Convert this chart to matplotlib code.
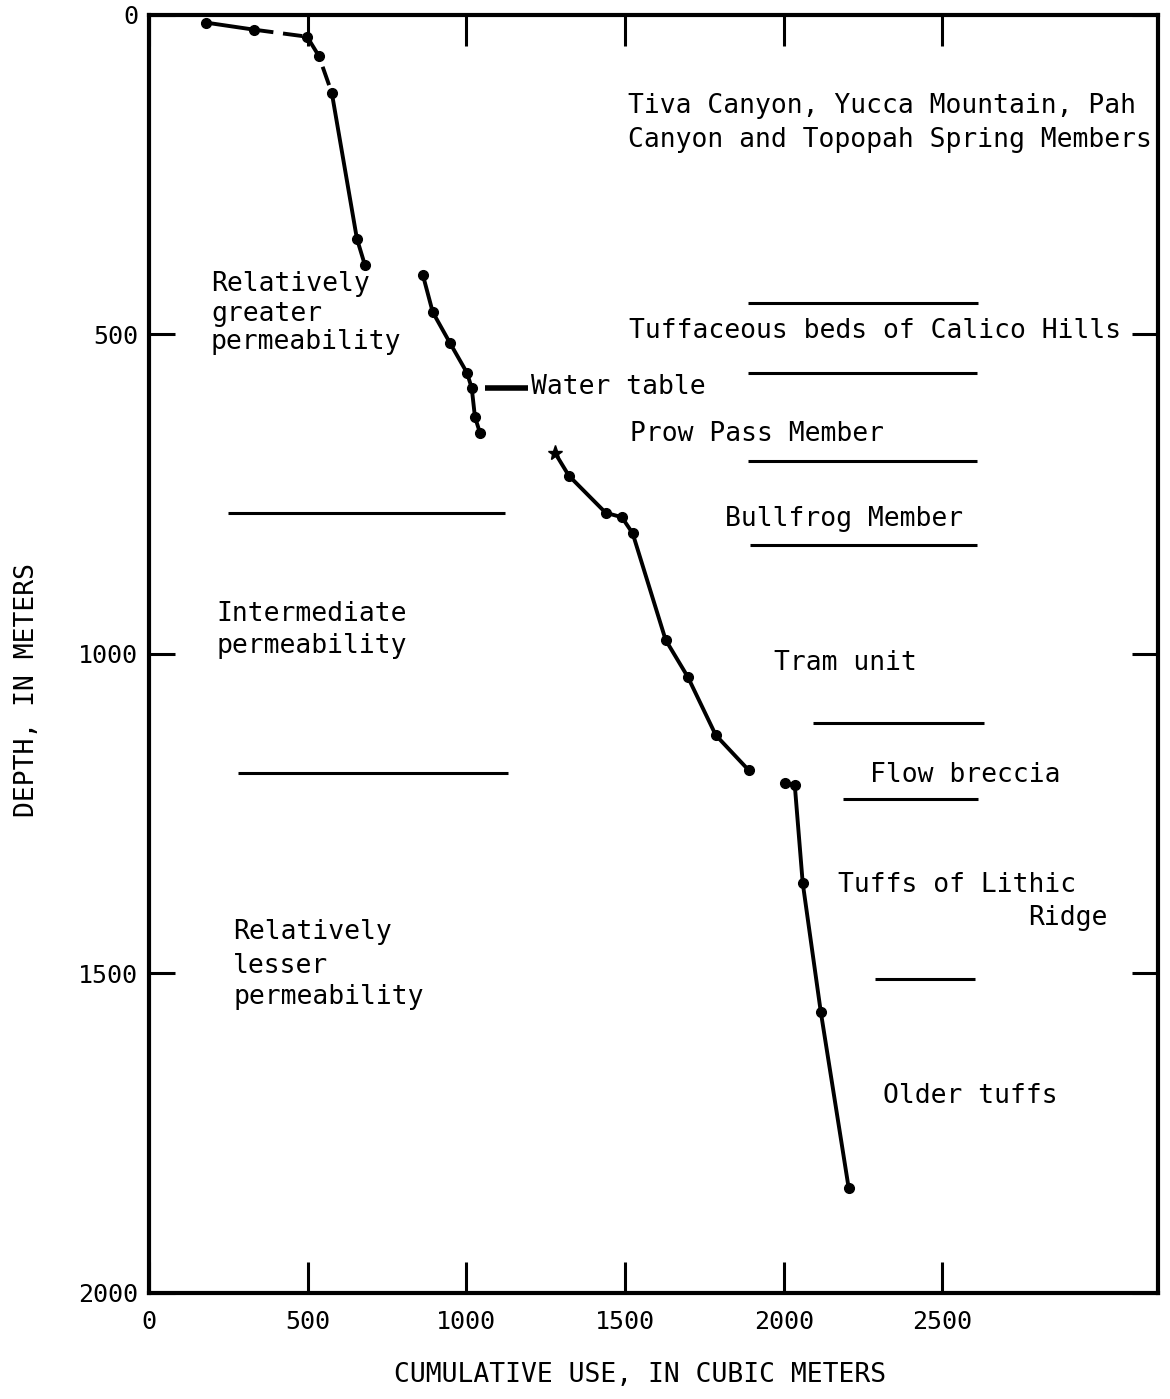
import matplotlib.pyplot as plt

plt.rcParams['font.family'] = ['DejaVu Sans Mono']

# cumulative use (m3) vs depth (m), four pieces of the hand-drawn curve
seg1_x = [180, 331, 498, 535, 576, 655, 680]
seg1_y = [12, 23, 34, 64, 122, 350, 391]
seg2_x = [863, 894, 948, 1002, 1017, 1027, 1043]
seg2_y = [407, 465, 513, 560, 584, 629, 654]
seg3_x = [1279, 1323, 1439, 1490, 1524, 1628, 1698, 1786, 1890]
seg3_y = [685, 721, 779, 786, 811, 978, 1036, 1127, 1182]
seg4_x = [2003, 2035, 2060, 2117, 2205]
seg4_y = [1202, 1205, 1358, 1560, 1836]

# stratigraphic unit boundaries (right) and permeability zones (left)
unit_y = [451, 560, 698, 829, 1108, 1227, 1509]
unit_x0 = [1887, 1887, 1887, 1893, 2094, 2186, 2287]
unit_x1 = [2611, 2608, 2608, 2608, 2630, 2611, 2602]
perm_y = [779, 1186]
perm_x0 = [249, 280]
perm_x1 = [1121, 1131]
water_table_y = 584

labels = [
    ("Tiva Canyon, Yucca Mountain, Pah", 1509, 142, 'left'),
    ("Canyon and Topopah Spring Members", 1509, 196, 'left'),
    ("Relatively", 195, 421, 'left'),
    ("greater", 195, 468, 'left'),
    ("permeability", 195, 512, 'left'),
    ("Tuffaceous beds of Calico Hills", 1512, 494, 'left'),
    ("Water table", 1203, 582, 'left'),
    ("Prow Pass Member", 1515, 656, 'left'),
    ("Bullfrog Member", 1814, 789, 'left'),
    ("Intermediate", 211, 937, 'left'),
    ("permeability", 211, 987, 'left'),
    ("Tram unit", 1969, 1014, 'left'),
    ("Flow breccia", 2271, 1189, 'left'),
    ("Tuffs of Lithic", 2170, 1362, 'left'),
    ("Ridge", 3020, 1413, 'right'),
    ("Relatively", 265, 1435, 'left'),
    ("lesser", 265, 1488, 'left'),
    ("permeability", 265, 1537, 'left'),
    ("Older tuffs", 2312, 1692, 'left'),
]

fig = plt.figure(figsize=(11.7, 13.99), dpi=100)
ax = fig.add_axes([0.1274, 0.0758, 0.8624, 0.9135])

lw = 2.8
# first piece: solid, then dashed across the shallow part, then solid
ax.plot(seg1_x[:2], seg1_y[:2], 'k-', lw=lw)
ax.plot(seg1_x[1:5], seg1_y[1:5], 'k-', lw=lw, dashes=(5, 2.5))
ax.plot(seg1_x[4:], seg1_y[4:], 'k-', lw=lw)
ax.plot(seg1_x, seg1_y, 'ko', ms=7)
ax.plot(seg2_x, seg2_y, 'k-', marker='o', ms=7, lw=lw)
ax.plot(seg3_x, seg3_y, 'k-', lw=lw)
ax.plot(seg3_x[1:], seg3_y[1:], 'ko', ms=7)
ax.plot(seg3_x[0], seg3_y[0], 'k*', ms=11)
ax.plot(seg4_x, seg4_y, 'k-', marker='o', ms=7, lw=lw)

ax.hlines(unit_y, unit_x0, unit_x1, colors='k', lw=2.2)
ax.hlines(perm_y, perm_x0, perm_x1, colors='k', lw=2.2)
ax.hlines(water_table_y, 1058, 1194, colors='k', lw=4)

for txt, x, y, ha in labels:
    ax.text(x, y, txt, ha=ha, va='center', fontsize=19)

ax.set_xlim(0, 3180)
ax.set_ylim(2000, 0)
ax.set_xticks([0, 500, 1000, 1500, 2000, 2500])
ax.set_yticks([0, 500, 1000, 1500, 2000])
ax.tick_params(axis='x', direction='in', length=22, width=2.2, top=True,
               labelsize=18, pad=12)
ax.tick_params(axis='y', direction='in', length=19, width=2.2, right=True,
               labelsize=18, pad=8)
for s in ax.spines.values():
    s.set_linewidth(3)

ax.set_xlabel('CUMULATIVE USE, IN CUBIC METERS', fontsize=19)
ax.set_ylabel('DEPTH, IN METERS', fontsize=19)
ax.xaxis.set_label_coords(0.487, -0.054)
ax.yaxis.set_label_coords(-0.108, 0.472)

fig.savefig('out.png', dpi=100)
